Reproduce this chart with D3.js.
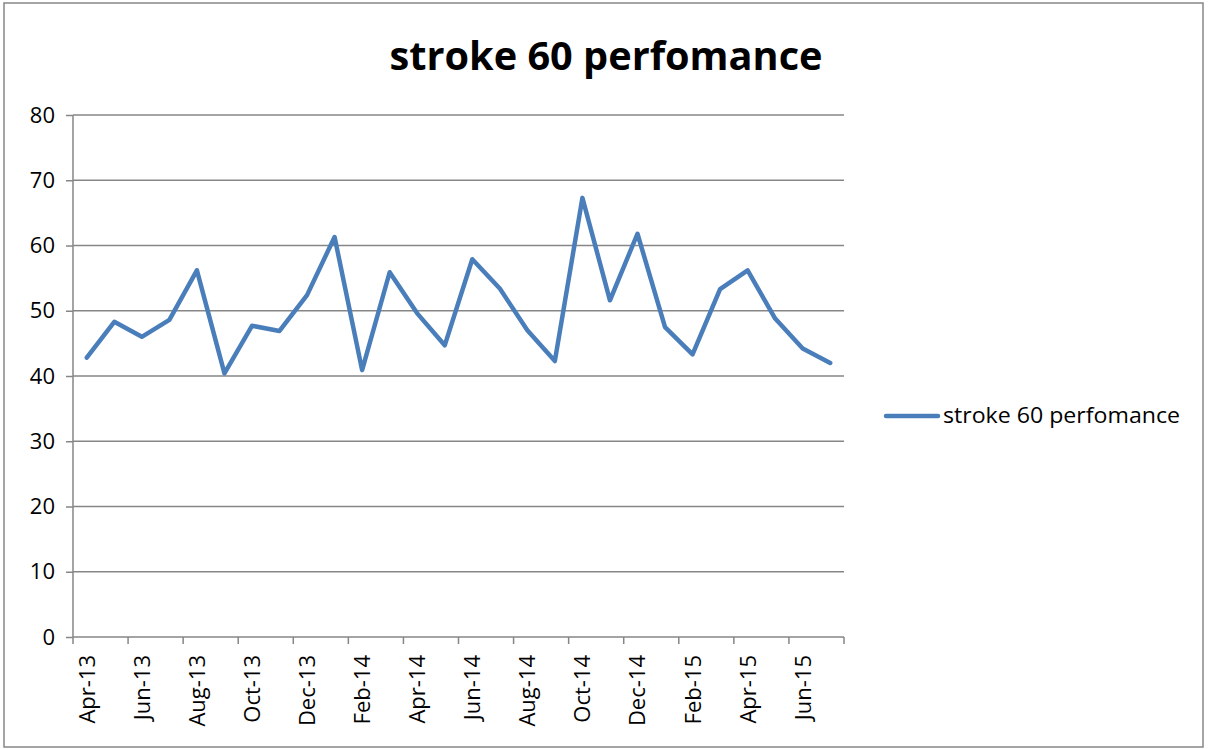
<!DOCTYPE html>
<html>
<head>
<meta charset="utf-8">
<script src="https://cdn.jsdelivr.net/npm/d3@7"></script>
<style>
  body { margin: 0; background: #fff; }
  text { font-family: "Open Sans", "Noto Sans", sans-serif; fill: #000; }
</style>
</head>
<body>
<div id="chart"></div>
<script>
// monthly values, Apr-13 .. Jul-15
var months = ["Apr-13","May-13","Jun-13","Jul-13","Aug-13","Sep-13","Oct-13","Nov-13","Dec-13","Jan-14",
  "Feb-14","Mar-14","Apr-14","May-14","Jun-14","Jul-14","Aug-14","Sep-14","Oct-14","Nov-14",
  "Dec-14","Jan-15","Feb-15","Mar-15","Apr-15","May-15","Jun-15","Jul-15"];
var values = [42.8, 48.3, 46.0, 48.6, 56.2, 40.4, 47.7, 46.9, 52.4, 61.3,
  40.9, 55.9, 49.6, 44.7, 57.9, 53.4, 47.0, 42.3, 67.3, 51.6,
  61.8, 47.5, 43.3, 53.3, 56.2, 48.8, 44.2, 42.0];
var yTicks = [0, 10, 20, 30, 40, 50, 60, 70, 80];
var seriesName = "stroke 60 perfomance";

function init() {
  var W = 1208, H = 749;
  var left = 73, right = 844, top = 115, bottom = 637;

  var svg = d3.select("#chart").append("svg")
    .attr("width", W)
    .attr("height", H);

  // outer frame
  svg.append("rect")
    .attr("x", 4).attr("y", 3)
    .attr("width", 1199).attr("height", 744)
    .style("fill", "#fff")
    .style("stroke", "#868686")
    .style("stroke-width", "1.5");

  var x = d3.scaleBand()
    .domain(months)
    .range([left, right]);

  var y = d3.scaleLinear()
    .domain([0, 80])
    .range([bottom, top]);

  // gridlines
  svg.append("g")
    .selectAll("line")
    .data(yTicks.slice(1))
    .enter()
    .append("line")
    .attr("x1", left).attr("x2", right)
    .attr("y1", function(d) { return y(d); })
    .attr("y2", function(d) { return y(d); })
    .style("stroke", "#868686")
    .style("stroke-width", "1.5");

  // y axis
  var yAxis = d3.axisLeft(y)
    .tickValues(yTicks)
    .tickSize(7)
    .tickPadding(11);

  var gy = svg.append("g")
    .attr("transform", "translate(" + left + ",0)")
    .call(yAxis);
  gy.select(".domain").remove();
  gy.append("line")
    .attr("x1", 0).attr("x2", 0)
    .attr("y1", top).attr("y2", bottom)
    .style("stroke", "#868686").style("stroke-width", "1.5");
  gy.selectAll(".tick line").style("stroke", "#868686").style("stroke-width", "1.5");
  gy.selectAll(".tick text")
    .style("font-size", "22px")
    .style("font-family", "\"Open Sans\", sans-serif");

  // x axis: ticks every second boundary, labels every second month
  var boundaries = months.filter(function(d, i) { return i % 2 === 0; });
  var gx = svg.append("g")
    .attr("transform", "translate(0," + bottom + ")");
  gx.append("line")
    .attr("x1", left).attr("x2", right)
    .style("stroke", "#868686").style("stroke-width", "1.5");
  gx.selectAll("line.tk")
    .data(boundaries.concat(["__end"]))
    .enter()
    .append("line")
    .attr("class", "tk")
    .attr("x1", function(d) { return d === "__end" ? right : x(d); })
    .attr("x2", function(d) { return d === "__end" ? right : x(d); })
    .attr("y1", 0).attr("y2", 7)
    .style("stroke", "#868686").style("stroke-width", "1.5");
  gx.selectAll("text")
    .data(boundaries)
    .enter()
    .append("text")
    .attr("transform", function(d) {
      return "translate(" + (x(d) + x.bandwidth() / 2 + 8) + ",18) rotate(-90)";
    })
    .attr("text-anchor", "end")
    .style("font-size", "22px")
    .text(function(d) { return d; });

  // series line
  var line = d3.line()
    .x(function(d, i) { return x(months[i]) + x.bandwidth() / 2; })
    .y(function(d) { return y(d); });

  svg.append("path")
    .datum(values)
    .attr("d", line)
    .style("fill", "none")
    .style("stroke", "#4a7ebb")
    .style("stroke-width", "4.5")
    .style("stroke-linejoin", "round")
    .style("stroke-linecap", "round");

  // title
  svg.append("text")
    .attr("x", 606).attr("y", 70)
    .attr("text-anchor", "middle")
    .style("font-size", "40px")
    .style("font-weight", "bold")
    .attr("textLength", 433)
    .attr("lengthAdjust", "spacingAndGlyphs")
    .text(seriesName);

  // legend
  var legend = svg.append("g");
  legend.append("line")
    .attr("x1", 886).attr("x2", 938)
    .attr("y1", 416).attr("y2", 416)
    .style("stroke", "#4a7ebb")
    .style("stroke-width", "4.5")
    .style("stroke-linecap", "round");
  legend.append("text")
    .attr("x", 943).attr("y", 423)
    .style("font-size", "21px")
    .attr("textLength", 237)
    .attr("lengthAdjust", "spacingAndGlyphs")
    .text(seriesName);
}

window.onload = init;
</script>
</body>
</html>
